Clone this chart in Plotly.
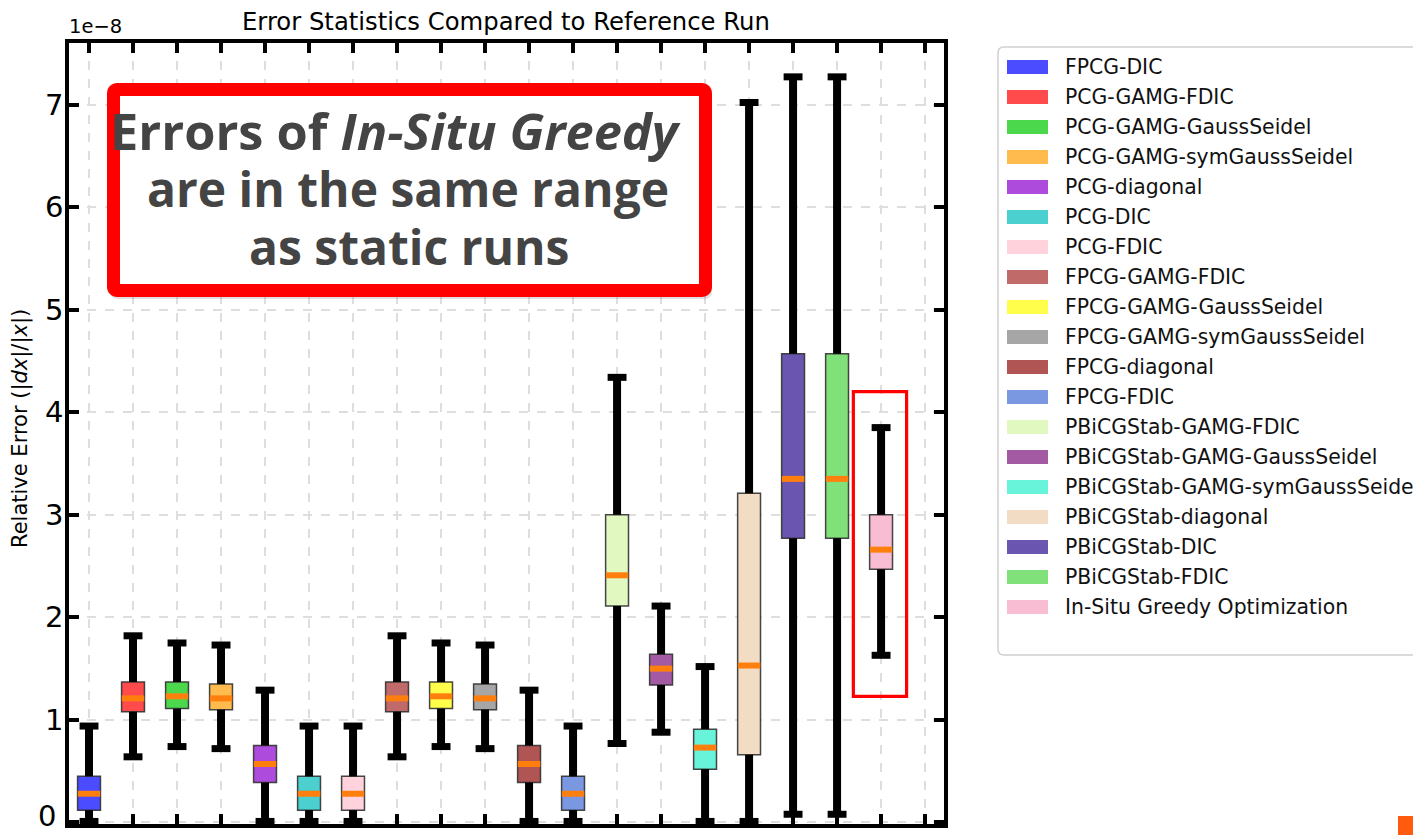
import plotly.graph_objects as go

# ---------------- data (values in units of 1e-8) ----------------
categories = [
    "FPCG-DIC", "PCG-GAMG-FDIC", "PCG-GAMG-GaussSeidel", "PCG-GAMG-symGaussSeidel",
    "PCG-diagonal", "PCG-DIC", "PCG-FDIC", "FPCG-GAMG-FDIC", "FPCG-GAMG-GaussSeidel",
    "FPCG-GAMG-symGaussSeidel", "FPCG-diagonal", "FPCG-FDIC", "PBiCGStab-GAMG-FDIC",
    "PBiCGStab-GAMG-GaussSeidel", "PBiCGStab-GAMG-symGaussSeidel", "PBiCGStab-diagonal",
    "PBiCGStab-DIC", "PBiCGStab-FDIC", "In-Situ Greedy Optimization",
]
whislo = [0.01, 0.64, 0.74, 0.72, 0.01, 0.01, 0.01, 0.64, 0.74, 0.72, 0.01, 0.01,
          0.77, 0.88, 0.01, 0.01, 0.08, 0.08, 1.63]
q1 = [0.12, 1.08, 1.11, 1.10, 0.39, 0.12, 0.12, 1.08, 1.11, 1.10, 0.39, 0.12,
      2.11, 1.34, 0.52, 0.66, 2.77, 2.77, 2.47]
median = [0.28, 1.21, 1.23, 1.21, 0.57, 0.28, 0.28, 1.21, 1.23, 1.21, 0.57, 0.28,
          2.41, 1.50, 0.73, 1.53, 3.35, 3.35, 2.66]
q3 = [0.45, 1.37, 1.37, 1.35, 0.75, 0.45, 0.45, 1.37, 1.37, 1.35, 0.75, 0.45,
      3.00, 1.64, 0.91, 3.21, 4.57, 4.57, 3.00]
whishi = [0.94, 1.82, 1.75, 1.73, 1.29, 0.94, 0.94, 1.82, 1.75, 1.73, 1.29, 0.94,
          4.34, 2.11, 1.52, 7.02, 7.27, 7.27, 3.85]
colors = [
    "#4b4bff", "#ff4b4b", "#4cd84c", "#ffbb4d", "#ad4bdc", "#4ccfcf", "#ffd2dc",
    "#c06a6a", "#ffff4b", "#a6a6a6", "#b05454", "#7a97e2", "#e1f9c1", "#a35aa3",
    "#68f4da", "#f2dcc3", "#6a56b0", "#80e07a", "#f8bdd3",
]
positions = list(range(1, len(categories) + 1))
ytick_vals = [0, 1, 2, 3, 4, 5, 6, 7]
xtick_vals = list(range(1, 21))

# ---------------- layout geometry ----------------
# the page body adds an 8px margin; figure coordinates = screen coordinates - 8
OFF = 8
W, H = 1421 - OFF, 835 - OFF
# plot-area edges in screen pixels
SL, SR, ST, SB = 69, 944, 43, 824
L, R, T, B = SL - OFF, SR - OFF, ST - OFF, SB - OFF


def px(x):  # screen px -> paper x
    return (x - SL) / (SR - SL)


def py(y):  # screen px -> paper y
    return (SB - y) / (SB - ST)


def rounded_rect(x0, y0, x1, y1, r):
    pts = [
        ("M", [(x0 + r, y0)]),
        ("L", [(x1 - r, y0)]),
        ("Q", [(x1, y0), (x1, y0 + r)]),
        ("L", [(x1, y1 - r)]),
        ("Q", [(x1, y1), (x1 - r, y1)]),
        ("L", [(x0 + r, y1)]),
        ("Q", [(x0, y1), (x0, y1 - r)]),
        ("L", [(x0, y0 + r)]),
        ("Q", [(x0, y0), (x0 + r, y0)]),
    ]
    s = ""
    for cmd, ps in pts:
        s += cmd + " " + " ".join(f"{px(a):.5f},{py(b):.5f}" for a, b in ps) + " "
    return s + "Z"


fig = go.Figure()

# boxes
for i, cat in enumerate(categories):
    fig.add_trace(go.Box(
        x=[positions[i]], q1=[q1[i]], median=[median[i]], q3=[q3[i]],
        lowerfence=[q1[i]], upperfence=[q3[i]],
        width=0.52, whiskerwidth=0, fillcolor=colors[i],
        line=dict(color="rgba(50,50,50,0.9)", width=1.5),
        boxpoints=False, name=cat, showlegend=False, hoverinfo="skip",
    ))

# whiskers
wx, wy = [], []
for i, p in enumerate(positions):
    wx += [p, p, None, p, p, None]
    wy += [whislo[i], q1[i], None, q3[i], whishi[i], None]
fig.add_trace(go.Scatter(x=wx, y=wy, mode="lines",
                         line=dict(color="black", width=8),
                         showlegend=False, hoverinfo="skip"))
# whisker caps
fig.add_trace(go.Scatter(x=positions + positions, y=whislo + whishi, mode="markers",
                         marker=dict(symbol="line-ew", size=13.5, color="black",
                                     line=dict(color="black", width=7)),
                         showlegend=False, hoverinfo="skip"))
# medians
fig.add_trace(go.Scatter(x=positions, y=median, mode="markers",
                         marker=dict(symbol="line-ew", size=16, color="#ff7f0e",
                                     line=dict(color="#ff7f0e", width=6)),
                         showlegend=False, hoverinfo="skip"))

shapes = []
annotations = []

# highlight rectangle around In-Situ Greedy box
shapes.append(dict(type="rect", xref="x", yref="y", x0=18.37, x1=19.58, y0=1.23, y1=4.20,
                   line=dict(color="#ff0000", width=3.2), layer="above"))

# callout box (shadow + red border)
shapes.append(dict(type="path", xref="paper", yref="paper",
                   path=rounded_rect(110, 88, 712, 299, 8),
                   fillcolor="rgba(0,0,0,0.12)", line=dict(width=0), layer="above"))
shapes.append(dict(type="path", xref="paper", yref="paper",
                   path=rounded_rect(113.5, 89.5, 705.5, 290.5, 4),
                   fillcolor="white", line=dict(color="#ff0000", width=13), layer="above"))
callout_lines = ["<b>Errors of <i>In-Situ Greedy</i></b>",
                 "<b>are in the same range</b>",
                 "<b>as static runs</b>"]
callout_sizes = [50.5, 48, 48]
callout_x = [395, 408, 409]
callout_centers = [131, 189, 247]
for txt, sz, cx, cy in zip(callout_lines, callout_sizes, callout_x, callout_centers):
    annotations.append(dict(text=txt, xref="paper", yref="paper", x=px(cx), y=py(cy),
                            xanchor="center", yanchor="middle", showarrow=False,
                            font=dict(family="Open Sans", size=sz, color="#444444")))

# title and offset label
annotations.append(dict(text="Error Statistics Compared to Reference Run", xref="paper",
                        yref="paper", x=px(506), y=py(21), xanchor="center", yanchor="middle",
                        showarrow=False, font=dict(family="DejaVu Sans", size=24.3, color="black")))
annotations.append(dict(text="1e\u22128", xref="paper", yref="paper", x=px(67), y=py(27),
                        xanchor="left", yanchor="middle", showarrow=False,
                        font=dict(family="DejaVu Sans", size=19.5, color="black")))
# bottom "0" tick label (the axis hides it because it reaches the page edge)
annotations.append(dict(text=str(ytick_vals[0]), xref="paper", yref="paper", x=px(58),
                        y=py(835), xanchor="right", yanchor="bottom", showarrow=False,
                        font=dict(family="DejaVu Sans", size=29, color="black")))
# y axis label
annotations.append(dict(text="Relative Error (|<i>dx</i>|/|<i>x</i>|)", xref="paper",
                        yref="paper", x=px(20), y=py(429), xanchor="center", yanchor="middle",
                        textangle=-90, showarrow=False,
                        font=dict(family="DejaVu Sans", size=21, color="black")))

# legend
shapes.append(dict(type="path", xref="paper", yref="paper",
                   path=rounded_rect(998, 47, 1445, 655, 6),
                   fillcolor="white", line=dict(color="#d0d0d0", width=1.5), layer="above"))
for i, cat in enumerate(categories):
    cy = 67 + 30 * i
    shapes.append(dict(type="rect", xref="paper", yref="paper",
                       x0=px(1007), x1=px(1048), y0=py(cy - 7), y1=py(cy + 7),
                       fillcolor=colors[i], line=dict(width=0), layer="above"))
    annotations.append(dict(text=cat, xref="paper", yref="paper", x=px(1063), y=py(cy),
                            xanchor="left", yanchor="middle", showarrow=False,
                            font=dict(family="DejaVu Sans", size=20.4, color="#111111")))

# small orange marker at bottom right
shapes.append(dict(type="rect", xref="paper", yref="paper",
                   x0=px(1398), x1=px(1418), y0=py(835), y1=py(816),
                   fillcolor="#ff5b0f", line=dict(width=0), layer="above"))

fig.update_layout(
    width=W, height=H,
    margin=dict(l=L, r=W - R, t=T, b=H - B, pad=0),
    plot_bgcolor="white", paper_bgcolor="white",
    shapes=shapes, annotations=annotations, showlegend=False,
    xaxis=dict(range=[0.545, 20.43], tickvals=xtick_vals, showticklabels=False,
               ticks="inside", ticklen=10, tickwidth=3.5, tickcolor="black",
               showline=True, linewidth=3.5, linecolor="black", mirror="ticks",
               showgrid=True, gridcolor="#dedede", gridwidth=1.5, griddash="dash",
               zeroline=False, fixedrange=True),
    yaxis=dict(range=[-0.015, 7.60], tickvals=ytick_vals,
               ticktext=[str(v) for v in ytick_vals],
               ticks="inside", ticklen=10, tickwidth=3.5, tickcolor="black",
               showline=True, linewidth=3.5, linecolor="black", mirror="ticks",
               showgrid=True, gridcolor="#dedede", gridwidth=1.5, griddash="dash",
               zeroline=False, tickfont=dict(family="DejaVu Sans", size=29, color="black"),
               ticklabelstandoff=-4, fixedrange=True),
)

fig.write_html("out.html")
